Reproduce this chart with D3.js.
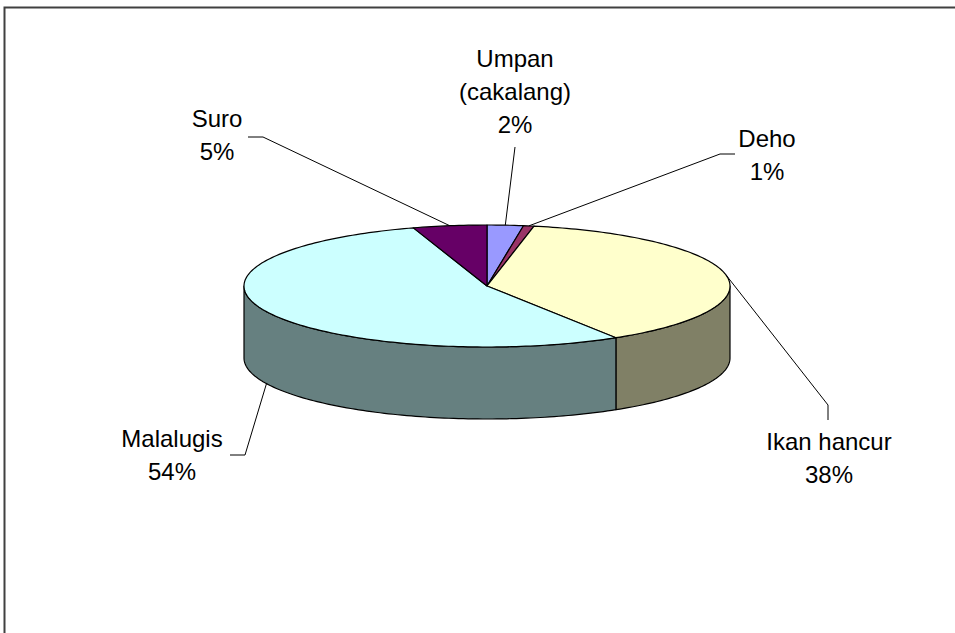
<!DOCTYPE html>
<html lang="en">
  <head>
    <meta charset="utf-8">
    <title>Pie 3D</title>
    <style>
      body { margin: 0; background: #fff; }
      text { font-family: "Liberation Sans", Arial, sans-serif; font-size: 24px; fill: #000; }
    </style>
  </head>
  <body>
<svg id="chart" width="955" height="633"></svg>

<script src="https://d3js.org/d3.v7.min.js"></script>
<script>
  // data (clockwise from 12 o'clock)
  var categories = ["Umpan\n(cakalang)", "Deho", "Ikan hancur", "Malalugis", "Suro"];
  var values = [2.4, 0.7, 38.0, 54.0, 4.9];
  var pctLabels = ["2%", "1%", "38%", "54%", "5%"];

  // styles
  var topColors = ["#9999FF", "#993366", "#FFFFCC", "#CCFFFF", "#660066"];
  var sideColors = ["#4D4D80", "#4D1A33", "#808066", "#668080", "#330033"];

  // label layout: first baseline, and leader line start / elbow
  var labelLayout = [
    {x: 515, y: 67,  start: [515, 147], elbow: [515, 147]},
    {x: 767, y: 147, start: [735, 154], elbow: [720, 154]},
    {x: 829, y: 450, start: [828, 420], elbow: [828, 405]},
    {x: 172, y: 447, start: [230, 455], elbow: [245, 455]},
    {x: 217, y: 127, start: [248, 137], elbow: [263, 137]}
  ];

  var svg = d3.select("#chart");
  var cx = 487, cy = 286, rx = 243, ry = 61, depth = 72;
  var lineH = 33;

  var slices = d3.pie().sort(null).startAngle(0).endAngle(2 * Math.PI)(values);

  function px(a) { return cx + rx * Math.sin(a); }
  function py(a) { return cy - ry * Math.cos(a); }

  function arcPoints(a0, a1, dy) {
    let n = Math.max(2, Math.ceil((a1 - a0) / 0.02));
    let pts = [];
    for (let i = 0; i <= n; i++) {
      let a = a0 + (a1 - a0) * i / n;
      pts.push([px(a), py(a) + dy]);
    }
    return pts;
  }

  // border of the chart area
  svg.append("path")
      .attr("d", "M4.5,640 V7.5 H960")
      .attr("fill", "none")
      .attr("stroke", "#404040")
      .attr("stroke-width", 2);

  var line = d3.line();

  // side walls (only the front half is visible)
  slices.forEach((d, i) => {
    let a0 = Math.max(d.startAngle, Math.PI / 2);
    let a1 = Math.min(d.endAngle, 3 * Math.PI / 2);
    if (a1 <= a0) return;
    let pts = arcPoints(a0, a1, 0).concat(arcPoints(a0, a1, depth).reverse());
    svg.append("path")
        .attr("d", line(pts) + "Z")
        .attr("fill", sideColors[i])
        .attr("stroke", "#000")
        .attr("stroke-width", 1.2)
        .attr("stroke-linejoin", "round");
  });

  // top faces
  svg.selectAll("path.top")
      .data(slices)
      .join("path")
      .attr("class", "top")
      .attr("d", d => line([[cx, cy]].concat(arcPoints(d.startAngle, d.endAngle, 0))) + "Z")
      .attr("fill", (d, i) => topColors[i])
      .attr("stroke", "#000")
      .attr("stroke-width", 1.2)
      .attr("stroke-linejoin", "round");

  // leader lines
  slices.forEach((d, i) => {
    let mid = (d.startAngle + d.endAngle) / 2;
    let end = [px(mid), py(mid) + (Math.cos(mid) < 0 ? depth : 0)];
    let L = labelLayout[i];
    svg.append("path")
        .attr("d", line([L.start, L.elbow, end]))
        .attr("fill", "none")
        .attr("stroke", "#000")
        .attr("stroke-width", 1);
  });

  // labels
  slices.forEach((d, i) => {
    let L = labelLayout[i];
    let lines = categories[i].split("\n").concat([pctLabels[i]]);
    let t = svg.append("text")
        .attr("text-anchor", "middle");
    lines.forEach((s, k) => {
      t.append("tspan")
          .attr("x", L.x)
          .attr("y", L.y + k * lineH)
          .text(s);
    });
  });
</script>
</body>
</html>
